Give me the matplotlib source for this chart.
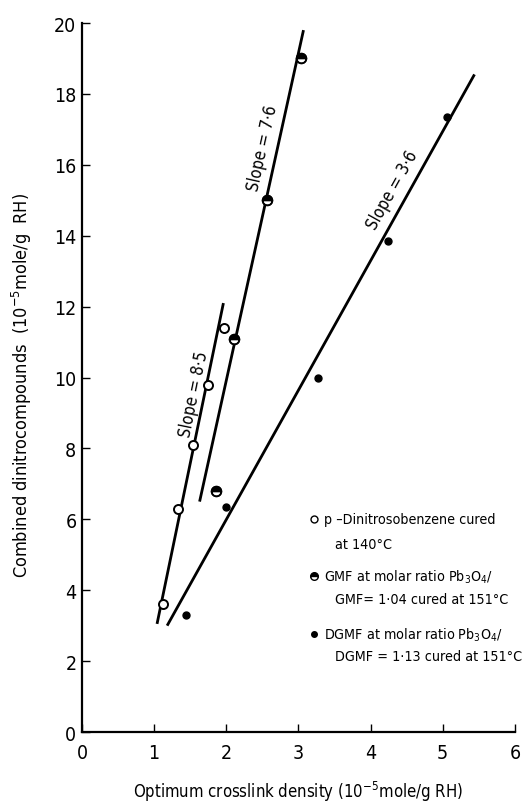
import matplotlib
matplotlib.use("Agg")
import matplotlib.pyplot as plt

plt.rcParams["font.family"] = ["DejaVu Sans"]
plt.rcParams["font.stretch"] = "condensed"

# p-dinitrosobenzene, 140 C
pdnb_x = [1.12, 1.33, 1.54, 1.75, 1.97]
pdnb_y = [3.6, 6.3, 8.1, 9.8, 11.4]
# GMF, Pb3O4/GMF = 1.04, 151 C
gmf_x = [1.86, 2.11, 2.56, 3.03]
gmf_y = [6.8, 11.1, 15.0, 19.0]
# DGMF, Pb3O4/DGMF = 1.13, 151 C
dgmf_x = [1.44, 2.0, 3.27, 4.24, 5.06]
dgmf_y = [3.3, 6.35, 10.0, 13.85, 17.35]

# fitted lines (end points) and their slope labels
fit_lines = [
    ([1.04, 1.96], [3.05, 12.1], "Slope = 8·5", (1.55, 9.55), 78.4),
    ([1.63, 3.07], [6.5, 19.8], "Slope = 7·6", (2.50, 16.5), 77.5),
    ([1.18, 5.44], [3.0, 18.55], "Slope = 3·6", (4.30, 15.3), 60.9),
]

fig = plt.figure(figsize=(5.27, 8.04), dpi=100)
ax = fig.add_axes([0.1556, 0.0883, 0.8214, 0.8818])

for xs, ys, label, (tx, ty), rot in fit_lines:
    ax.plot(xs, ys, color="black", lw=2.0, solid_capstyle="butt", zorder=2)
    ax.text(tx, ty, label, rotation=rot, ha="center", va="center",
            fontsize=12, zorder=4)

ax.plot(pdnb_x, pdnb_y, "o", ms=6.5, mfc="white", mec="black", mew=1.4, zorder=3)
ax.plot(gmf_x, gmf_y, "o", ms=7, mfc="black", mfcalt="white", fillstyle="top",
        mec="black", mew=1.2, zorder=3)
ax.plot(gmf_x, gmf_y, "o", ms=7, mfc="none", mec="black", mew=1.2, zorder=3)
ax.plot(dgmf_x, dgmf_y, "o", ms=5, mfc="black", mec="black", zorder=3)

# legend block written as text with small marker glyphs
mark_x, text_x, indent_x = 3.22, 3.35, 3.5
rows = [
    (6.0, "p –Dinitrosobenzene cured", "pdnb"),
    (5.3, "at 140°C", None),
    (4.4, "GMF at molar ratio Pb$_3$O$_4$/", "gmf"),
    (3.75, "GMF= 1·04 cured at 151°C", None),
    (2.76, "DGMF at molar ratio Pb$_3$O$_4$/", "dgmf"),
    (2.14, "DGMF = 1·13 cured at 151°C", None),
]
for y, txt, kind in rows:
    ax.text(text_x if kind else indent_x, y, txt, fontsize=10.3,
            ha="left", va="center")
    if kind == "pdnb":
        ax.plot(mark_x, y, "o", ms=5, mfc="white", mec="black", mew=1.0)
    elif kind == "gmf":
        ax.plot(mark_x, y, "o", ms=5.5, mfc="black", mfcalt="white",
                fillstyle="top", mec="black", mew=1.0)
    elif kind == "dgmf":
        ax.plot(mark_x, y, "o", ms=4, mfc="black", mec="black")

ax.set_xlim(0, 6)
ax.set_ylim(0, 20)
ax.set_xticks(range(0, 7))
ax.set_yticks(range(0, 21, 2))
ax.tick_params(direction="in", length=6, width=1.0, labelsize=14, pad=4)
ax.tick_params(axis="x", pad=8)
for side in ("top", "right"):
    ax.spines[side].set_visible(False)
for side in ("left", "bottom"):
    ax.spines[side].set_linewidth(1.6)

ax.set_xlabel("Optimum crosslink density (10$^{-5}$mole/g RH)", fontsize=12, labelpad=12)
ax.set_ylabel("Combined dinitrocompounds  (10$^{-5}$mole/g  RH)", fontsize=13)
ax.yaxis.set_label_coords(-0.11, 0.49)

fig.savefig("out.png", dpi=100)
